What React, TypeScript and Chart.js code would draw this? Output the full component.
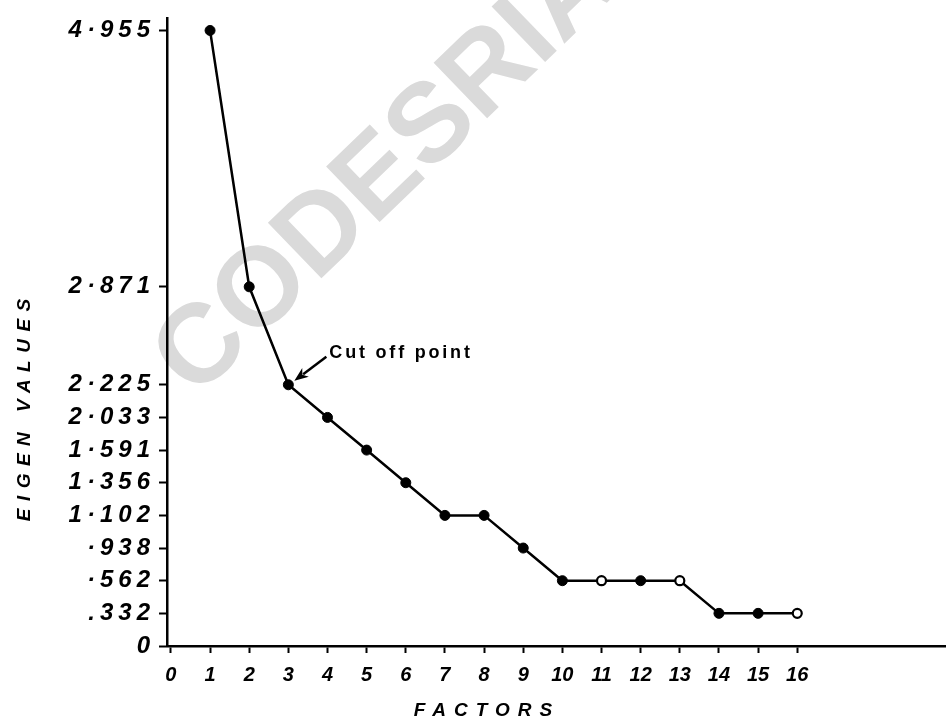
import React, { useEffect, useRef } from 'react';
import { Chart, registerables, LinearScale } from 'chart.js';

Chart.register(...registerables);

// ---- data ----
const FACTORS = [1, 2, 3, 4, 5, 6, 7, 8, 9, 10, 11, 12, 13, 14, 15, 16];
const EIGEN_VALUES = [4.955, 2.871, 2.225, 2.033, 1.591, 1.356, 1.102, 1.102, 0.938, 0.562, 0.562, 0.562, 0.562, 0.332, 0.332, 0.332];
const HOLLOW_FACTORS = [11, 13, 16];
const X_TICKS = [0, 1, 2, 3, 4, 5, 6, 7, 8, 9, 10, 11, 12, 13, 14, 15, 16];
const Y_TICK_VALUES = [0, 0.332, 0.562, 0.938, 1.102, 1.356, 1.591, 2.033, 2.225, 2.871, 4.955];
const Y_TICK_LABELS = ['0', '.332', '·562', '·938', '1·102', '1·356', '1·591', '2·033', '2·225', '2·871', '4·955'];
// the hand-drawn axis spaces its labelled values on an uneven (piecewise) scale
const Y_TICK_SLOTS = [0, 1, 2, 3, 4, 5, 6, 7, 8, 11, 18.85];
const Y_SLOT_MAX = 19.22;
const X_TITLE = 'FACTORS';
const Y_TITLE = 'EIGEN VALUES';
const CUT_OFF_LABEL = 'Cut off point';
const CUT_OFF_FACTOR = 3;
const WATERMARK = 'CODESRIA';

function valueToSlot(value: number): number {
  const v = Y_TICK_VALUES;
  const s = Y_TICK_SLOTS;
  const n = v.length;
  if (value <= v[0]) return s[0];
  if (value >= v[n - 1]) {
    return s[n - 1] + ((value - v[n - 1]) * (s[n - 1] - s[n - 2])) / (v[n - 1] - v[n - 2]);
  }
  for (let i = 0; i < n - 1; i++) {
    if (value >= v[i] && value <= v[i + 1]) {
      return s[i] + ((value - v[i]) * (s[i + 1] - s[i])) / (v[i + 1] - v[i]);
    }
  }
  return 0;
}

function slotToValue(slot: number): number {
  const v = Y_TICK_VALUES;
  const s = Y_TICK_SLOTS;
  const n = v.length;
  if (slot <= s[0]) return v[0];
  if (slot >= s[n - 1]) {
    return v[n - 1] + ((slot - s[n - 1]) * (v[n - 1] - v[n - 2])) / (s[n - 1] - s[n - 2]);
  }
  for (let i = 0; i < n - 1; i++) {
    if (slot >= s[i] && slot <= s[i + 1]) {
      return v[i] + ((slot - s[i]) * (v[i + 1] - v[i])) / (s[i + 1] - s[i]);
    }
  }
  return 0;
}

class PiecewiseScale extends LinearScale {
  static id = 'piecewise';
  static defaults = LinearScale.defaults;
  getPixelForValue(value: number) {
    return (this as any).getPixelForDecimal(valueToSlot(value) / Y_SLOT_MAX);
  }
  getValueForPixel(pixel: number) {
    return slotToValue((this as any).getDecimalForPixel(pixel) * Y_SLOT_MAX);
  }
  drawLabels(chartArea: any) {
    const ctx = (this as any).ctx as CanvasRenderingContext2D;
    ctx.save();
    (ctx as any).letterSpacing = '5px';
    // @ts-ignore
    super.drawLabels(chartArea);
    ctx.restore();
  }
}
Chart.register(PiecewiseScale as any);

const FONT = '"Liberation Sans", Arial, sans-serif';

const decorPlugin = {
  id: 'decor',
  beforeDraw(chart: any) {
    const ctx: CanvasRenderingContext2D = chart.ctx;
    ctx.save();
    ctx.translate(380, 166);
    ctx.rotate((-44 * Math.PI) / 180);
    ctx.font = `bold 112px ${FONT}`;
    ctx.fillStyle = '#dadada';
    ctx.textAlign = 'center';
    ctx.textBaseline = 'alphabetic';
    ctx.fillText(WATERMARK, 0, 40);
    ctx.restore();
  },
  afterDraw(chart: any) {
    const ctx: CanvasRenderingContext2D = chart.ctx;
    const xs = chart.scales.x;
    const ys = chart.scales.y;

    // y title
    ctx.save();
    ctx.translate(25, 410);
    ctx.rotate(-Math.PI / 2);
    ctx.font = `italic bold 19px ${FONT}`;
    (ctx as any).letterSpacing = '7.5px';
    ctx.fillStyle = '#000';
    ctx.textAlign = 'center';
    ctx.textBaseline = 'middle';
    ctx.fillText(Y_TITLE, 3.75, 0);
    ctx.restore();

    // x title
    ctx.save();
    ctx.font = `italic bold 19px ${FONT}`;
    (ctx as any).letterSpacing = '8px';
    ctx.fillStyle = '#000';
    ctx.textAlign = 'center';
    ctx.textBaseline = 'middle';
    ctx.fillText(X_TITLE, 487, 711);
    ctx.restore();

    // cut-off annotation
    const idx = FACTORS.indexOf(CUT_OFF_FACTOR);
    const px = xs.getPixelForValue(FACTORS[idx]);
    const py = ys.getPixelForValue(EIGEN_VALUES[idx]);
    const tipX = px + 6;
    const tipY = py - 4;
    const tailX = px + 38;
    const tailY = py - 28;
    ctx.save();
    ctx.strokeStyle = '#000';
    ctx.fillStyle = '#000';
    ctx.lineWidth = 2.5;
    const ang = Math.atan2(tipY - tailY, tipX - tailX);
    const hl = 14;
    const hw = 5.5;
    const bx = tipX - hl * Math.cos(ang);
    const by = tipY - hl * Math.sin(ang);
    ctx.beginPath();
    ctx.moveTo(tailX, tailY);
    ctx.lineTo(bx + 3 * Math.cos(ang), by + 3 * Math.sin(ang));
    ctx.stroke();
    ctx.beginPath();
    ctx.moveTo(tipX, tipY);
    ctx.lineTo(bx - hw * Math.sin(ang), by + hw * Math.cos(ang));
    ctx.lineTo(bx + 4 * Math.cos(ang), by + 4 * Math.sin(ang));
    ctx.lineTo(bx + hw * Math.sin(ang), by - hw * Math.cos(ang));
    ctx.closePath();
    ctx.fill();
    ctx.font = `bold 18px ${FONT}`;
    (ctx as any).letterSpacing = '2.8px';
    ctx.textAlign = 'left';
    ctx.textBaseline = 'alphabetic';
    ctx.fillText(CUT_OFF_LABEL, px + 41, py - 27);
    ctx.restore();
  },
};

export default function App() {
  const ref = useRef<HTMLCanvasElement | null>(null);

  useEffect(() => {
    document.body.style.margin = '0';
    const canvas = ref.current;
    if (!canvas) return;
    const points = FACTORS.map((f, i) => ({ x: f, y: EIGEN_VALUES[i] }));
    const chart = new Chart(canvas, {
      type: 'line',
      data: {
        datasets: [
          {
            data: points,
            borderColor: '#000',
            borderWidth: 2.5,
            tension: 0,
            fill: false,
            pointRadius: FACTORS.map((f) => (HOLLOW_FACTORS.includes(f) ? 4.5 : 5)),
            pointBorderWidth: FACTORS.map((f) => (HOLLOW_FACTORS.includes(f) ? 2.2 : 1)),
            pointBorderColor: '#000',
            pointBackgroundColor: FACTORS.map((f) => (HOLLOW_FACTORS.includes(f) ? '#fff' : '#000')),
          },
        ],
      },
      options: {
        responsive: false,
        animation: false,
        events: [],
        layout: { autoPadding: false, padding: { top: 13, right: 0, left: 0, bottom: 0 } },
        plugins: { legend: { display: false }, tooltip: { enabled: false }, title: { display: false } },
        scales: {
          x: {
            type: 'linear',
            min: -0.1,
            max: 19.8,
            afterBuildTicks: (scale: any) => {
              scale.ticks = X_TICKS.map((v) => ({ value: v }));
            },
            afterFit: (scale: any) => {
              scale.height = 75;
            },
            grid: {
              display: true,
              drawOnChartArea: false,
              drawTicks: true,
              tickLength: 7,
              tickWidth: 2,
              tickColor: '#000',
              color: '#000',
            },
            border: { display: true, color: '#000', width: 2.5 },
            ticks: {
              autoSkip: false,
              maxRotation: 0,
              color: '#000',
              padding: 10,
              font: { family: 'Liberation Sans', size: 20, style: 'italic', weight: 'bold' },
              callback: (v: any) => String(v),
            },
          },
          y: {
            type: 'piecewise' as any,
            min: 0,
            max: 5,
            afterBuildTicks: (scale: any) => {
              scale.ticks = Y_TICK_VALUES.map((v) => ({ value: v }));
            },
            afterFit: (scale: any) => {
              scale.width = 167;
            },
            grid: {
              display: true,
              drawOnChartArea: false,
              drawTicks: true,
              tickLength: 8,
              tickWidth: 2,
              tickColor: '#000',
              color: '#000',
            },
            border: { display: true, color: '#000', width: 2.5 },
            ticks: {
              autoSkip: false,
              color: '#000',
              padding: 4,
              font: { family: 'Liberation Sans', size: 24, style: 'italic', weight: 'bold' },
              callback: (_v: any, i: number) => Y_TICK_LABELS[i],
            },
          },
        },
      },
      plugins: [decorPlugin],
    } as any);
    return () => chart.destroy();
  }, []);

  return (
    <div style={{ width: 946, height: 721, background: '#fff' }}>
      <canvas ref={ref} width={946} height={721} style={{ display: 'block' }} />
    </div>
  );
}
